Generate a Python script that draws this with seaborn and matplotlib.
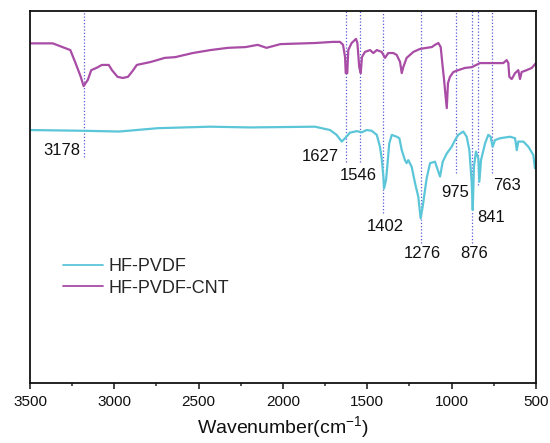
import pandas as pd
import matplotlib.pyplot as plt
import seaborn as sns
from matplotlib.ticker import MultipleLocator

# FTIR spectra (arbitrary transmittance units)
pvdf_wn = [3500, 3180, 2972, 2919, 2742, 2433, 2196, 1810, 1721, 1682, 1652, 1632,
           1603, 1563, 1533, 1504, 1474, 1444, 1425, 1415, 1405, 1401, 1389, 1382,
           1370, 1355, 1326, 1310, 1296, 1277, 1267, 1257, 1237, 1217, 1198, 1184,
           1172, 1148, 1128, 1099, 1079, 1069, 1053, 1029, 1000, 980, 961, 931,
           911, 895, 881, 875, 868, 856, 842, 836, 826, 802, 783, 769, 757, 743,
           713, 654, 624, 614, 605, 575, 545, 516, 506, 500]
pvdf_val = [68.0, 67.8, 67.6, 67.8, 68.5, 68.9, 68.7, 68.9, 68.0, 66.7, 64.9, 65.8,
            67.3, 67.7, 67.4, 68.0, 67.8, 66.7, 63.5, 60.4, 55.5, 52.3, 54.6, 58.1,
            64.4, 66.7, 66.2, 65.8, 62.6, 59.9, 59.1, 59.9, 58.1, 53.7, 50.1, 44.3,
            47.4, 55.1, 59.1, 59.5, 56.8, 55.5, 59.5, 61.7, 63.5, 65.3, 66.7, 67.6,
            66.2, 62.6, 53.7, 46.5, 58.1, 62.2, 60.4, 54.1, 59.9, 64.4, 66.7, 66.2,
            63.5, 65.3, 65.8, 66.2, 65.8, 62.6, 64.9, 64.9, 63.5, 61.3, 57.7, 59.5]

cnt_wn = [3500, 3365, 3261, 3230, 3199, 3182, 3157, 3137, 3106, 3074, 3033, 3014,
          2981, 2950, 2919, 2888, 2867, 2784, 2701, 2639, 2535, 2430, 2326, 2222,
          2150, 2098, 2015, 1807, 1704, 1662, 1644, 1632, 1628, 1619, 1613, 1593,
          1567, 1559, 1548, 1539, 1532, 1514, 1484, 1464, 1444, 1415, 1395, 1376,
          1346, 1326, 1306, 1296, 1287, 1267, 1227, 1188, 1148, 1118, 1099, 1079,
          1065, 1053, 1045, 1038, 1029, 1022, 1010, 990, 961, 921, 881, 832, 773,
          694, 674, 664, 658, 644, 624, 605, 595, 585, 555, 525, 500]
cnt_val = [91.3, 91.3, 89.5, 86.0, 82.3, 79.8, 81.5, 84.1, 84.7, 85.5, 85.5, 84.1,
           82.3, 82.0, 82.3, 84.1, 85.5, 86.3, 87.4, 87.6, 88.7, 89.5, 90.1, 90.3,
           90.9, 90.1, 91.1, 91.4, 91.7, 91.7, 90.9, 87.6, 83.3, 83.3, 89.5, 91.4,
           92.5, 91.4, 84.9, 83.3, 87.6, 89.0, 89.5, 88.7, 89.5, 89.0, 87.4, 88.7,
           88.7, 88.2, 86.3, 83.3, 84.9, 87.4, 89.0, 89.8, 90.1, 90.3, 90.9, 91.4,
           90.3, 84.9, 81.5, 78.0, 73.9, 80.6, 82.3, 83.6, 84.1, 84.7, 84.9, 86.0,
           86.0, 86.0, 86.8, 86.0, 82.3, 81.7, 83.3, 84.1, 81.7, 83.6, 84.1, 84.7, 86.0]

# marked peaks: where the guide line sits, how far down it runs, and its label
peak_pos = [3180, 1627, 1542, 1405, 1182, 975, 877, 842, 763]
peak_bottom = [60.8, 59.4, 59.4, 45.7, 37.6, 56.5, 37.6, 53.2, 56.5]
peak_labels = ['3178', '1627', '1546', '1402', '1276', '975', '876', '841', '763']

# label placement (x, y, ha) for each peak label
label_place = [(3204, 62.6, 'right'), (1668, 61.0, 'right'), (1555, 55.9, 'center'),
               (1395, 42.2, 'center'), (1176, 34.9, 'center'), (977, 51.1, 'center'),
               (865, 34.9, 'center'), (850, 44.6, 'left'), (755, 53.0, 'left')]

df = pd.concat([
    pd.DataFrame({'wavenumber': pvdf_wn, 'T': pvdf_val, 'sample': 'HF-PVDF'}),
    pd.DataFrame({'wavenumber': cnt_wn, 'T': cnt_val, 'sample': 'HF-PVDF-CNT'}),
])

sns.set_theme(style='white')
plt.rcParams['font.family'] = ['Liberation Sans', 'DejaVu Sans']
plt.rcParams['mathtext.default'] = 'regular'

fig = plt.figure(figsize=(5.5, 4.43), dpi=100)
ax = fig.add_axes([30 / 550, 60 / 443, 506 / 550, 372 / 443])

ax.vlines(peak_pos, peak_bottom, 100, colors='#5a5ad6', linestyles=(0, (1, 1.6)),
          linewidth=0.9, zorder=1)

sns.lineplot(data=df, x='wavenumber', y='T', hue='sample', sort=False, estimator=None,
             hue_order=['HF-PVDF', 'HF-PVDF-CNT'],
             palette=['#5cc6d9', '#a84ca6'], linewidth=1.6, ax=ax, zorder=2)

for lab, (x, y, ha) in zip(peak_labels, label_place):
    ax.text(x, y, lab, ha=ha, va='center', fontsize=12, color='#111111')

ax.set_xlim(3500, 500)
ax.set_ylim(0, 100)
ax.xaxis.set_major_locator(MultipleLocator(500))
ax.xaxis.set_minor_locator(MultipleLocator(250))
ax.set_yticks([])
ax.tick_params(axis='x', which='major', direction='out', length=4.5, width=1.1,
               labelsize=11, pad=4, colors='#111111', bottom=True)
ax.tick_params(axis='x', which='minor', direction='out', length=2.3, width=1.1, bottom=True)
ax.set_xlabel('Wavenumber(cm$^{-1}$)', fontsize=14, labelpad=4, color='#111111')
ax.set_ylabel('')
for s in ax.spines.values():
    s.set_color('#111111')
    s.set_linewidth(1.3)

leg = ax.legend(loc='upper left', bbox_to_anchor=(0.065, 0.336), frameon=False, fontsize=13,
                handlelength=2.2, handletextpad=0.3, labelspacing=0.25, borderpad=0,
                borderaxespad=0)
for h in leg.get_lines():
    h.set_linewidth(1.3)

fig.savefig('out.png', dpi=100)
